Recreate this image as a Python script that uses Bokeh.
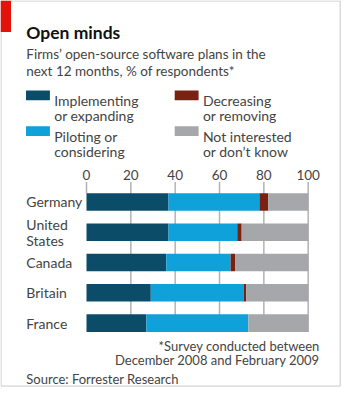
from bokeh.plotting import figure
from bokeh.models import Range1d, ColumnDataSource
from bokeh.embed import file_html
from bokeh.resources import INLINE
from bokeh.core.properties import value

# ---------------- data ----------------
countries = ["Germany", "United\nStates", "Canada", "Britain", "France"]
implementing = [37, 37, 36, 29, 27]
piloting = [41, 31, 29, 42, 46]
decreasing = [4, 2, 2, 1, 0]
not_interested = [18, 30, 33, 28, 27]
series_keys = ["implementing", "piloting", "decreasing", "not_interested"]
series_labels = ["Implementing\nor expanding", "Piloting or\nconsidering",
                 "Decreasing\nor removing", "Not interested\nor don\u2019t know"]
colors = ["#0b4d69", "#0ea1da", "#7a2212", "#a6a7aa"]
ticks = [0, 20, 40, 60, 80, 100]

title = "Open minds"
subtitle = ["Firms\u2019 open-source software plans in the",
            "next 12 months, % of respondents*"]
footnote = ["*Survey conducted between", "December 2008 and February 2009"]
source = "Source: Forrester Research"

# ---------------- layout ----------------
W = 344
S = W / 360.0
H = int(round(406 * S))


def px(v):
    return v * S


FONT = "Lato"
X0, X1 = px(90), px(322)
upp = 100.0 / (X1 - X0)
C0, SP = px(210.8), px(31.7)

p = figure(width=W, height=H,
           x_range=Range1d(-X0 * upp, (W - X0) * upp),
           y_range=Range1d((H - C0) / SP, -C0 / SP),
           x_axis_type=None, y_axis_type=None,
           output_backend="svg", toolbar_location=None,
           min_border=0, outline_line_color=None,
           background_fill_color="white", border_fill_color="white")
p.extra_x_ranges = {"px": Range1d(0, W)}
p.extra_y_ranges = {"px": Range1d(H, 0)}

# frame border and red tab
p.quad(left=[px(0.5)], right=[px(355.5)], top=[px(0.5)], bottom=[px(403.5)],
       fill_color=None, line_color="#c8c8c8", line_width=1,
       x_range_name="px", y_range_name="px")
p.quad(left=[0], right=[px(11)], top=[0], bottom=[px(33)],
       fill_color="#e3120b", line_color=None,
       x_range_name="px", y_range_name="px")

# title / subtitle
p.text(x=[px(27)], y=[px(33)], text=[title], x_range_name="px", y_range_name="px",
       text_font=value(FONT), text_font_style="bold", text_font_size="17.5px",
       text_color="#111111", text_baseline="alphabetic")
p.text(x=[px(27)] * 2, y=[px(56.5), px(73.5)], text=subtitle,
       x_range_name="px", y_range_name="px",
       text_font=value(FONT), text_font_size="13.5px",
       text_color="#444444", text_baseline="alphabetic")

# legend
leg_x = [px(26.7), px(26.7), px(182.3), px(182.3)]
leg_y = [px(94.3), px(131.7), px(94.3), px(131.7)]
sw_w, sw_h = px(25), px(10)
p.quad(left=leg_x, right=[x + sw_w for x in leg_x], top=leg_y,
       bottom=[y + sw_h for y in leg_y], fill_color=colors, line_color=None,
       x_range_name="px", y_range_name="px")
first = [s.split("\n")[0] for s in series_labels]
second = [s.split("\n")[1] for s in series_labels]
p.text(x=[x + px(29.5) for x in leg_x], y=[y + px(10.5) for y in leg_y], text=first,
       x_range_name="px", y_range_name="px", text_font=value(FONT),
       text_font_size="14px", text_color="#444444", text_baseline="alphabetic")
p.text(x=[x + px(29.5) for x in leg_x], y=[y + px(26.5) for y in leg_y], text=second,
       x_range_name="px", y_range_name="px", text_font=value(FONT),
       text_font_size="14px", text_color="#444444", text_baseline="alphabetic")

# gridlines
grid_ticks = [t for t in ticks if t > 0]
p.segment(x0=grid_ticks, x1=grid_ticks, y0=[px(190)] * len(grid_ticks),
          y1=[px(347)] * len(grid_ticks), y_range_name="px",
          line_color="#b3b3b3", line_width=1.5)
p.segment(x0=[0], x1=[0], y0=[px(190)], y1=[px(202)], y_range_name="px",
          line_color="#b3b3b3", line_width=1.5)

# tick labels
p.text(x=ticks, y=[px(183)] * len(ticks), text=[str(t) for t in ticks],
       y_range_name="px", text_align="center", text_baseline="middle",
       text_font=value(FONT), text_font_size="13.5px", text_color="#444444")

# bars
src = ColumnDataSource(dict(idx=list(range(len(countries))),
                            implementing=implementing, piloting=piloting,
                            decreasing=decreasing, not_interested=not_interested))
p.hbar_stack(series_keys, y="idx", height=0.58, fill_color=colors,
             line_color=None, source=src)

# country labels
p.text(x=[px(27)] * len(countries), y=list(range(len(countries))), text=countries,
       x_range_name="px", text_baseline="middle", text_line_height=0.95,
       text_font=value(FONT), text_font_size="14px", text_color="#444444")

# footnotes
p.text(x=[px(334)] * 2, y=[px(361.7), px(376.7)], text=footnote,
       x_range_name="px", y_range_name="px", text_align="right",
       text_baseline="middle", text_font=value(FONT), text_font_size="13px",
       text_color="#444444")
p.text(x=[px(27)], y=[px(396.5)], text=[source],
       x_range_name="px", y_range_name="px", text_baseline="middle",
       text_font=value(FONT), text_font_size="13px", text_color="#444444")

open("out.html", "w").write(file_html(p, INLINE))
